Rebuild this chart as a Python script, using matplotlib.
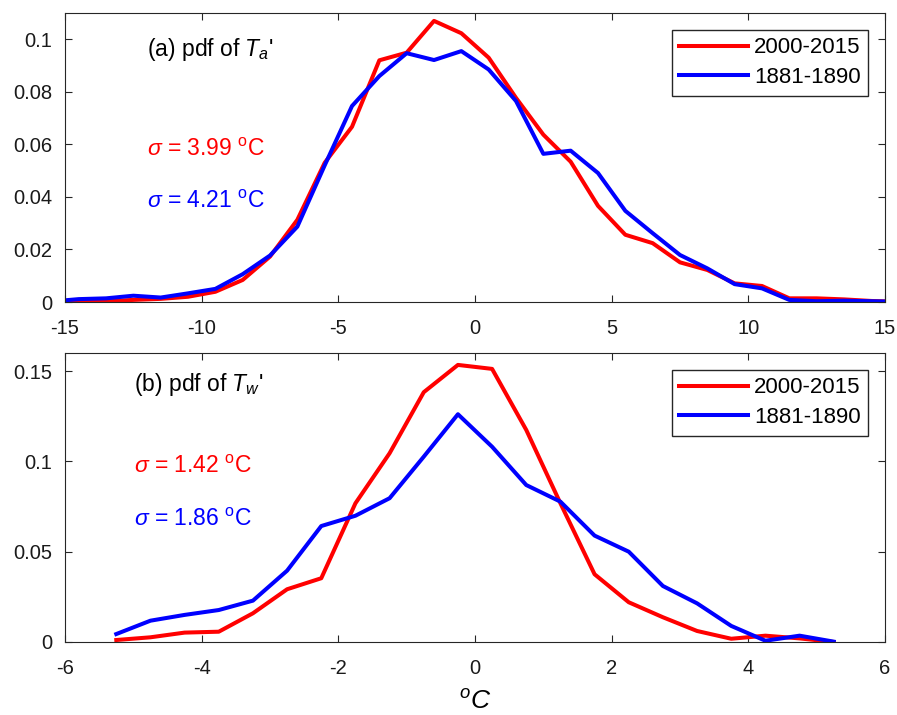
import matplotlib
matplotlib.use('Agg')
import matplotlib.pyplot as plt
import numpy as np

plt.rcParams['font.family'] = ['Liberation Sans', 'DejaVu Sans']
plt.rcParams['mathtext.fontset'] = 'custom'
plt.rcParams['mathtext.rm'] = 'Liberation Sans'
plt.rcParams['mathtext.it'] = 'Liberation Sans:italic'
plt.rcParams['axes.unicode_minus'] = False

# (a) pdf of Ta', bin centres
x_a = np.arange(-15.5, 16, 1.0)
ta_new = [0.0, 0.0, 0.0003, 0.0008, 0.0012, 0.002, 0.0039, 0.0084, 0.0173, 0.0313,
          0.053, 0.0667, 0.092, 0.0949, 0.107, 0.1023, 0.093, 0.0777, 0.0637, 0.0534,
          0.0366, 0.0256, 0.0224, 0.0151, 0.0122, 0.0071, 0.0061, 0.0014, 0.0014, 0.001,
          0.0004, 0.0001]
ta_old = [0.0002, 0.0011, 0.0014, 0.0024, 0.0017, 0.0033, 0.005, 0.0106, 0.0177, 0.0287,
          0.052, 0.0746, 0.086, 0.0947, 0.0921, 0.0955, 0.0885, 0.0765, 0.0564, 0.0576,
          0.0491, 0.0347, 0.0262, 0.0179, 0.0128, 0.0068, 0.0052, 0.0008, 0.0003, 0.0005,
          0.0003, 0.0001]

# (b) pdf of Tw'
x_b = np.arange(-5.25, 5.5, 0.5)
tw_new = [0.0011, 0.0026, 0.0052, 0.0057, 0.0159, 0.0292, 0.0353, 0.0768, 0.1045, 0.1383,
          0.1534, 0.1512, 0.1174, 0.0768, 0.0375, 0.022, 0.0137, 0.0061, 0.0018, 0.0035,
          0.002, 0.0]
tw_old = [0.0044, 0.0118, 0.015, 0.0177, 0.0229, 0.0395, 0.0642, 0.0699, 0.0796, 0.1026,
          0.1261, 0.1081, 0.0869, 0.0777, 0.0589, 0.05, 0.031, 0.0214, 0.0089, 0.0007,
          0.0035, 0.0002]

labels = ['2000-2015', '1881-1890']
sig_a = ['3.99', '4.21']
sig_b = ['1.42', '1.86']
colors = ['#ff0000', '#0000ff']

fig = plt.figure(figsize=(8.97, 7.15), dpi=100)
ax1 = fig.add_axes([0.0725, 0.5776, 0.9141, 0.4042])
ax2 = fig.add_axes([0.0725, 0.1021, 0.9141, 0.4042])


def style(ax):
  ax.tick_params(direction='in', top=True, right=True, labelsize=14.5,
                 colors='#262626', length=5, width=0.8)
  ax.tick_params(axis='x', pad=12)
  ax.tick_params(axis='y', pad=9)
  for sp in ax.spines.values():
    sp.set_color('#262626')
    sp.set_linewidth(0.8)
  for t in ax.get_xticklabels() + ax.get_yticklabels():
    t.set_color('#1a1a1a')


def add_legend(ax):
  ax.legend(loc='upper right', fontsize=16, handlelength=3.1, fancybox=False,
            edgecolor='#262626', framealpha=1, borderaxespad=0.75,
            borderpad=0.35, labelspacing=0.38, handletextpad=0.25)


ax1.plot(x_a, ta_new, color=colors[0], lw=2.9, label=labels[0])
ax1.plot(x_a, ta_old, color=colors[1], lw=2.9, label=labels[1])
ax1.set_xlim(-15, 15)
ax1.set_ylim(0, 0.11)
ax1.set_xticks(np.arange(-15, 16, 5))
ax1.set_yticks([0, 0.02, 0.04, 0.06, 0.08, 0.1])
ax1.set_yticklabels(['0', '0.02', '0.04', '0.06', '0.08', '0.1'])
style(ax1)
ax1.text(-12.0, 0.0962, "(a) pdf of $T_a$'", fontsize=16.5, va='center')
ax1.text(-12.0, 0.058, r'$\sigma$ = ' + sig_a[0] + r' $^{\rm o}$C', color=colors[0],
         fontsize=16.5, va='center')
ax1.text(-12.0, 0.0382, r'$\sigma$ = ' + sig_a[1] + r' $^{\rm o}$C', color=colors[1],
         fontsize=16.5, va='center')
add_legend(ax1)

ax2.plot(x_b, tw_new, color=colors[0], lw=2.9, label=labels[0])
ax2.plot(x_b, tw_old, color=colors[1], lw=2.9, label=labels[1])
ax2.set_xlim(-6, 6)
ax2.set_ylim(0, 0.16)
ax2.set_xticks(np.arange(-6, 7, 2))
ax2.set_yticks([0, 0.05, 0.1, 0.15])
ax2.set_yticklabels(['0', '0.05', '0.1', '0.15'])
style(ax2)
ax2.text(-4.99, 0.1423, "(b) pdf of $T_w$'", fontsize=16.5, va='center')
ax2.text(-4.99, 0.0969, r'$\sigma$ = ' + sig_b[0] + r' $^{\rm o}$C', color=colors[0],
         fontsize=16.5, va='center')
ax2.text(-4.99, 0.0676, r'$\sigma$ = ' + sig_b[1] + r' $^{\rm o}$C', color=colors[1],
         fontsize=16.5, va='center')
add_legend(ax2)
ax2.set_xlabel('$^{o}C$', fontsize=19, labelpad=9)

fig.savefig('out.png', dpi=100)
